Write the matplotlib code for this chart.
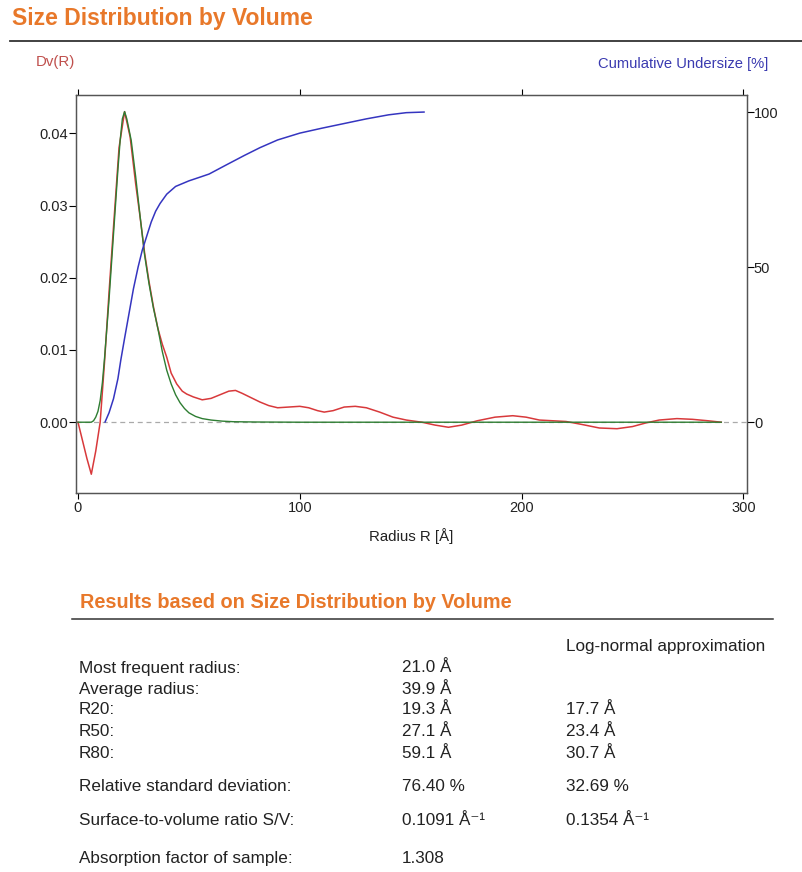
import matplotlib
matplotlib.use('Agg')
import matplotlib.pyplot as plt
from matplotlib.lines import Line2D

plt.rcParams['font.family'] = ['Liberation Sans', 'DejaVu Sans']

# Dv(R) measured distribution
radius_dv = [0, 2, 4, 6, 8, 10, 12, 14, 16, 18.5, 21, 23.5, 26, 28, 30, 32, 34, 36, 38, 40,
             42, 44.5, 47, 49, 52, 56, 60, 64, 68, 71, 74, 78, 82, 86, 90, 95, 100, 104, 108,
             111, 115, 120, 125, 130, 136, 142, 148, 155, 161, 167, 173, 180, 188, 196, 202,
             208, 214, 220, 227, 235, 243, 250, 256, 262, 270, 277, 284, 290]
dv = [0, -0.0025, -0.005, -0.0072, -0.004, 0.0, 0.0085, 0.018, 0.027, 0.038, 0.043, 0.0395,
      0.033, 0.0284, 0.0235, 0.0195, 0.016, 0.013, 0.0108, 0.009, 0.0068, 0.0053, 0.0043,
      0.0039, 0.0035, 0.0031, 0.0033, 0.0038, 0.0043, 0.0044, 0.0040, 0.0034, 0.0028, 0.0023,
      0.0020, 0.0021, 0.0022, 0.0020, 0.0016, 0.0014, 0.0016, 0.0021, 0.0022, 0.0020, 0.0014,
      0.0007, 0.0003, 0.0, -0.0004, -0.0007, -0.0004, 0.0002, 0.0007, 0.0009, 0.0007, 0.0003,
      0.0002, 0.0001, -0.0003, -0.0008, -0.0009, -0.0006, -0.0001, 0.0003, 0.0005, 0.0004,
      0.0002, 0.0]

# log-normal approximation
radius_ln = [0, 6, 7, 8, 9, 10, 11, 12, 14, 16, 18, 19, 20, 21, 22, 24, 26, 28, 30, 32, 34,
             36, 38, 40, 42, 44, 46, 48, 50, 53, 56, 60, 65, 70, 80, 100, 290]
dv_ln = [0, 0, 0.0002, 0.0007, 0.0015, 0.003, 0.0055, 0.009, 0.017, 0.026, 0.035, 0.039,
         0.042, 0.043, 0.042, 0.039, 0.034, 0.0285, 0.0232, 0.0192, 0.0158, 0.013, 0.0098,
         0.0072, 0.0053, 0.0038, 0.0027, 0.0019, 0.0013, 0.0008, 0.0005, 0.0003, 0.00015,
         0.00007, 0.00003, 0, 0]

# cumulative undersize [%]
radius_cum = [12.2, 14, 16, 18, 19.3, 21, 23, 25, 27.1, 29, 31, 33, 35, 37, 40, 44, 50, 55,
              59.1, 67, 75, 82, 90, 100, 110, 120, 130, 140, 148, 156]
cum = [0, 3, 7.5, 14, 20, 27, 35, 43, 50, 55.5, 60, 64.5, 68, 70.5, 73.5, 76, 77.8, 79, 80,
       83, 86, 88.5, 91, 93.2, 94.8, 96.3, 97.8, 99.1, 99.8, 100]

row_labels = ['Most frequent radius:', 'Average radius:', 'R20:', 'R50:', 'R80:',
              'Relative standard deviation:', 'Surface-to-volume ratio S/V:',
              'Absorption factor of sample:']
row_values = ['21.0 Å', '39.9 Å', '19.3 Å', '27.1 Å', '59.1 Å', '76.40 %',
              '0.1091 Å⁻¹', '1.308']
row_lognormal = ['', '', '17.7 Å', '23.4 Å', '30.7 Å', '32.69 %', '0.1354 Å⁻¹', '']
row_y = [668, 689, 710, 732, 753, 786, 820, 858]

W, H = 803, 872
ORANGE = '#E8782A'
TXT = '#222222'
TICK_FS = 10.5
TABLE_FS = 12.3


def fx(px):
    return px / W


def fy(py):
    return 1 - py / H


fig = plt.figure(figsize=(W / 100, H / 100), dpi=100)

# header
fig.text(fx(12), fy(19), 'Size Distribution by Volume', color=ORANGE, fontsize=16.5,
         fontweight='bold', va='center', ha='left')
fig.add_artist(Line2D([fx(10), fx(803)], [fy(41), fy(41)], color='#333333', lw=1.3,
                      transform=fig.transFigure))

ax = fig.add_axes([fx(76), fy(493), fx(747) - fx(76), fy(95) - fy(493)])
ax2 = ax.twinx()

ax.axhline(0, color='#aaaaaa', lw=0.9, ls=(0, (4, 3)), zorder=1)
ax.plot(radius_ln, dv_ln, color='#2E7D32', lw=1.0, zorder=3)
ax.plot(radius_dv, dv, color='#D8393B', lw=1.1, zorder=2)
ax2.plot(radius_cum, cum, color='#3535C0', lw=1.1)

ax.set_xlim(-0.9, 301.6)
ax.set_ylim(-0.0098, 0.0453)
ax2.set_ylim(-22.9, 105.5)

ax.set_xticks([0, 100, 200, 300])
ax.set_yticks([0, 0.01, 0.02, 0.03, 0.04])
ax.set_yticklabels(['0.00', '0.01', '0.02', '0.03', '0.04'])
ax2.set_yticks([0, 50, 100])

ax.tick_params(axis='x', which='both', top=True, direction='out', length=4, width=0.8,
               labelsize=TICK_FS, labelcolor=TXT, pad=2)
ax.tick_params(axis='y', direction='out', length=5, width=0.8, labelsize=TICK_FS,
               labelcolor=TXT, pad=1)
ax2.tick_params(axis='y', direction='out', length=5, width=0.8, labelsize=TICK_FS,
                labelcolor=TXT, pad=0)

for a in (ax, ax2):
    for sp in a.spines.values():
        sp.set_color('#555555')
        sp.set_linewidth(0.9)

ax.set_xlabel('Radius R [Å]', fontsize=10.8, color=TXT, labelpad=9)

fig.text(fx(36), fy(62), 'Dv(R)', color='#C0504D', fontsize=10.8, va='center', ha='left')
fig.text(fx(768), fy(64), 'Cumulative Undersize [%]', color='#3A3AB0', fontsize=10.6,
         va='center', ha='right')

# results table
fig.text(fx(80), fy(602), 'Results based on Size Distribution by Volume', color=ORANGE,
         fontsize=14.3, fontweight='bold', va='center', ha='left')
fig.add_artist(Line2D([fx(72), fx(773)], [fy(619), fy(619)], color='#333333', lw=1.1,
                      transform=fig.transFigure))
fig.text(fx(566), fy(646), 'Log-normal approximation', color=TXT, fontsize=TABLE_FS,
         va='center', ha='left')

for lab, val, ln, y in zip(row_labels, row_values, row_lognormal, row_y):
    fig.text(fx(79), fy(y), lab, color=TXT, fontsize=TABLE_FS, va='center', ha='left')
    fig.text(fx(402), fy(y), val, color=TXT, fontsize=TABLE_FS, va='center', ha='left')
    if ln:
        fig.text(fx(566), fy(y), ln, color=TXT, fontsize=TABLE_FS, va='center', ha='left')

fig.savefig('out.png', dpi=100)
